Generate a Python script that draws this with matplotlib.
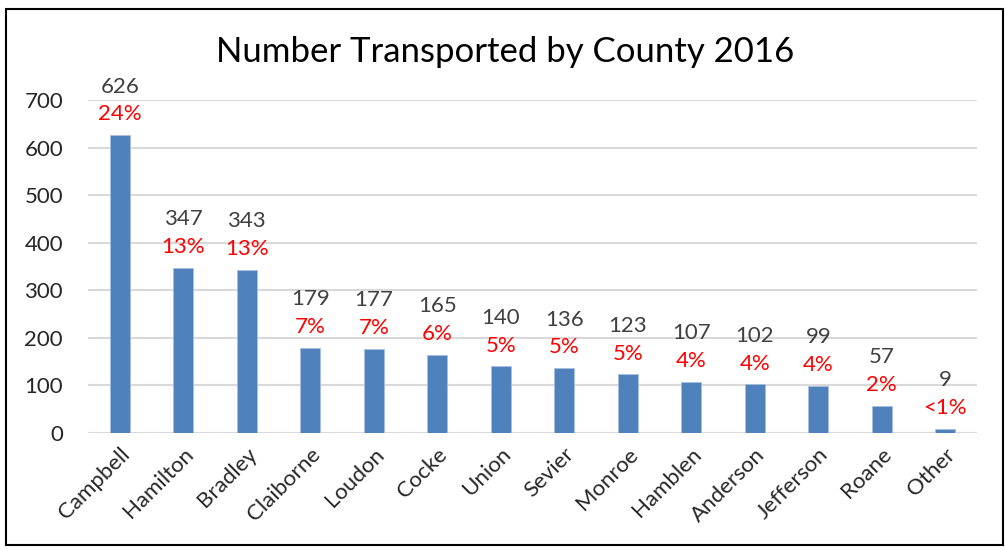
import matplotlib.pyplot as plt
from matplotlib.patches import Rectangle

counties = ["Campbell", "Hamilton", "Bradley", "Claiborne", "Loudon", "Cocke", "Union",
            "Sevier", "Monroe", "Hamblen", "Anderson", "Jefferson", "Roane", "Other"]
counts = [626, 347, 343, 179, 177, 165, 140, 136, 123, 107, 102, 99, 57, 9]
percents = ["24%", "13%", "13%", "7%", "7%", "6%", "5%", "5%", "5%", "4%", "4%", "4%", "2%", "<1%"]
yticks = [0, 100, 200, 300, 400, 500, 600, 700]

plt.rcParams['font.family'] = ['Lato', 'DejaVu Sans']

fig = plt.figure(figsize=(10.05, 5.51), dpi=100)
ax = fig.add_axes([88 / 1005, 1 - 433 / 551, (977 - 88) / 1005, (433 - 100) / 551])

x = range(len(counties))
ax.bar(x, counts, width=0.31, color='#4f81bd', edgecolor='#a7bfdf', linewidth=0.6, zorder=3)

for i, (c, p) in enumerate(zip(counts, percents)):
    ax.annotate(str(c), (i, c), xytext=(0, 35), textcoords='offset points',
                ha='center', va='center', fontsize=16, color='#404040', annotation_clip=False)
    ax.annotate(p, (i, c), xytext=(0, 15), textcoords='offset points',
                ha='center', va='center', fontsize=16, color='#ff0000', annotation_clip=False)

ax.set_xlim(-0.5, len(counties) - 0.5)
ax.set_ylim(0, 700)
ax.set_yticks(yticks)
ax.set_yticklabels([str(t) for t in yticks], fontsize=16, color='#262626')
ax.set_xticks(list(x))
ax.set_xticklabels(counties, rotation=45, ha='right', rotation_mode='anchor', fontsize=16, color='#262626')
ax.tick_params(axis='both', length=0)
ax.tick_params(axis='y', pad=18)
ax.tick_params(axis='x', pad=8)
ax.grid(axis='y', color='#d9d9d9', linewidth=1.5, zorder=0)
ax.set_axisbelow(True)
for s in ax.spines.values():
    s.set_visible(False)

fig.text(505 / 1005, 1 - 52 / 551, "Number Transported by County 2016", ha='center', va='center',
         fontsize=25, color='#000000')

fig.patches.append(Rectangle((6 / 1005, 1 - 545 / 551), (1003 - 6) / 1005, (545 - 9) / 551,
                             transform=fig.transFigure, fill=False, edgecolor='black', linewidth=1.5))

plt.savefig('out.png', dpi=100)
